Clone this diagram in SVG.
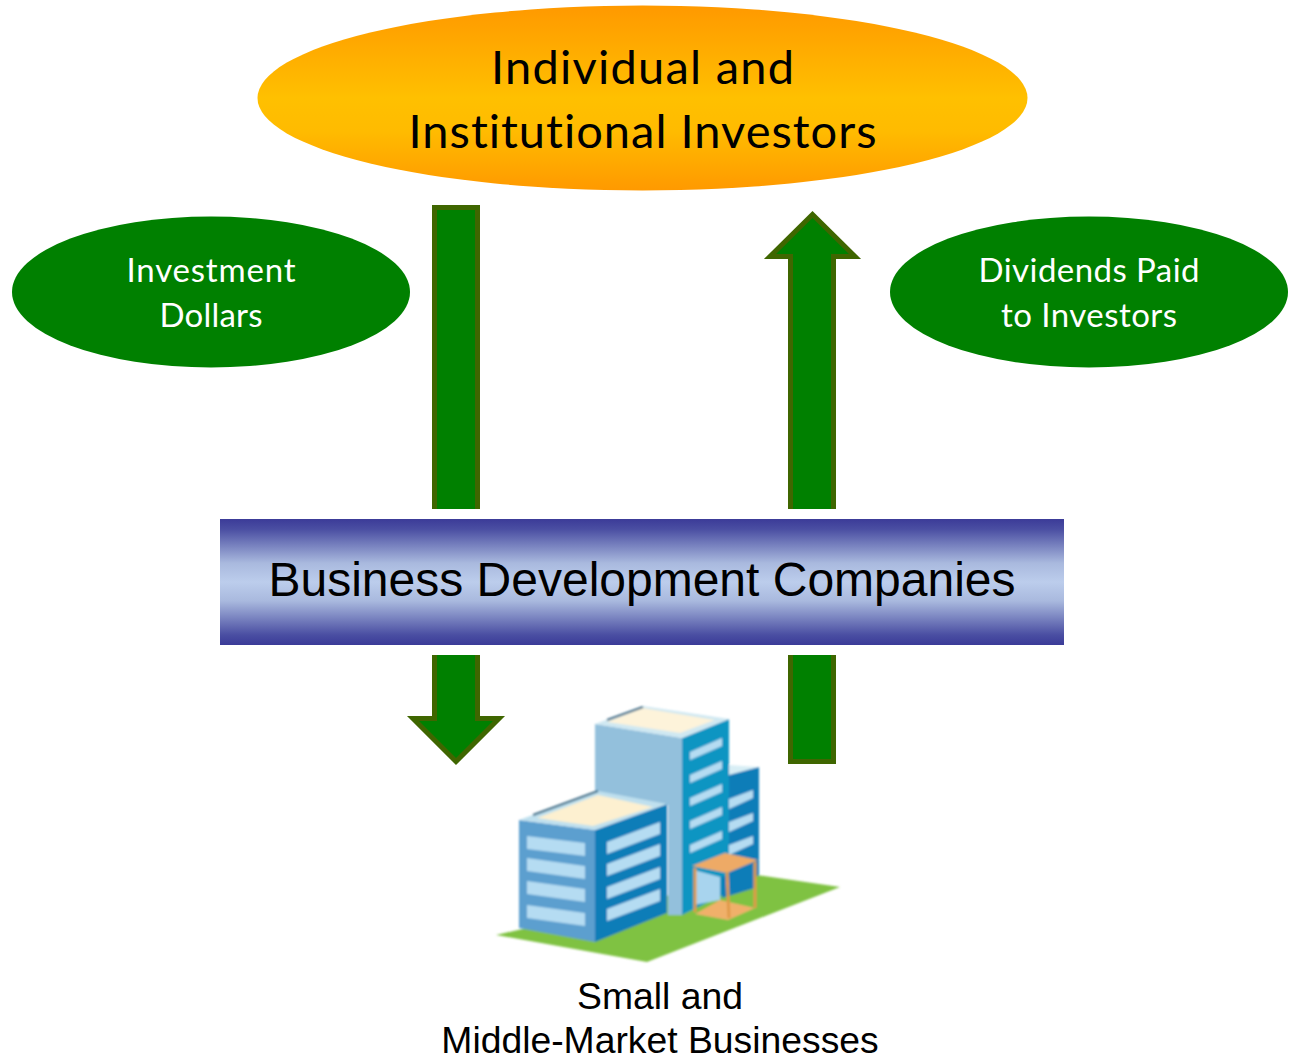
<svg xmlns="http://www.w3.org/2000/svg" width="1289" height="1061" viewBox="0 0 1289 1061">
<defs>
<linearGradient id="gold" x1="0" y1="0" x2="0" y2="1"><stop offset="0" stop-color="#ff9900"/><stop offset="0.5" stop-color="#ffc000"/><stop offset="0.68" stop-color="#ffbb00"/><stop offset="1" stop-color="#ff9900"/></linearGradient>
<linearGradient id="band" x1="0" y1="0" x2="0" y2="1"><stop offset="0" stop-color="#3b3b98"/><stop offset="0.08" stop-color="#4a4ea2"/><stop offset="0.35" stop-color="#a9b9de"/><stop offset="0.5" stop-color="#bccdec"/><stop offset="0.65" stop-color="#a9b9de"/><stop offset="0.92" stop-color="#4a4ea2"/><stop offset="1" stop-color="#3b3b98"/></linearGradient>
<filter id="soft" x="-5%" y="-5%" width="110%" height="110%"><feGaussianBlur stdDeviation="1"/></filter>
</defs>
<style>
.ar{fill:#008000;stroke:#3f6600;stroke-width:5;stroke-miterlimit:10}
.cal{font-family:"Lato","Open Sans",sans-serif;text-anchor:middle;font-variant-ligatures:none}
.ari{font-family:"Liberation Sans",Arial,sans-serif;text-anchor:middle;fill:#000}
.w{fill:#b5dcf2}
.g{fill:#008000}
</style>
<rect width="1289" height="1061" fill="#fff"/>
<g id="connectors">
<path class="ar" d="M434.500 509V207.500H477.500V509"/>
<path class="ar" d="M790.500 509V256.500H770L812.500 214.500L855 256.500H833.500V509"/>
<path class="ar" d="M434.500 655V718.500H413L456 761.500L499 718.500H477.500V655"/>
<path class="ar" d="M790.500 655V761.500H833.500V655"/>
</g>
<g id="investors">
<ellipse cx="642.500" cy="98" rx="385" ry="92.500" fill="url(#gold)"/>
<text class="cal" x="642.500" y="84" font-size="47" fill="#000" textLength="303">Individual and</text>
<text class="cal" x="642.500" y="148" font-size="47" fill="#000" textLength="468">Institutional Investors</text>
</g>
<g id="investment-dollars">
<ellipse class="g" cx="211" cy="292" rx="199" ry="75.500"/>
<text class="cal" x="211" y="282" font-size="33" fill="#fff" textLength="169">Investment</text>
<text class="cal" x="211" y="327" font-size="33" fill="#fff" textLength="103">Dollars</text>
</g>
<g id="dividends">
<ellipse class="g" cx="1089" cy="292" rx="199" ry="75.500"/>
<text class="cal" x="1089" y="282" font-size="33" fill="#fff" textLength="221">Dividends Paid</text>
<text class="cal" x="1089" y="327" font-size="33" fill="#fff" textLength="176">to Investors</text>
</g>
<g id="bdc">
<rect x="220" y="519" width="844" height="126" fill="url(#band)"/>
<text class="ari" x="642" y="596" font-size="48">Business Development Companies</text>
</g>
<g id="businesses">
<g filter="url(#soft)">
<polygon points="496,935 757,875 840,887 647,962" fill="#7fc242"/>
<polygon points="729,773 759,767 759,875 729,892" fill="#0d7db8"/>
<polygon points="729,765 759,767 729,775" fill="#d8eef5"/>
<polygon points="595,724 682,738 682,915 668,915 668,805 595,795" fill="#93c0dc"/>
<polygon points="682,738 729,719 729,892 682,915" fill="#0f95c2"/>
<polygon points="595,724 643,706 729,719 682,738" fill="#cfe8f2"/>
<polygon points="607,722 643,708 715,720 680,733" fill="#fdf3da"/>
<line x1="607" y1="720" x2="643" y2="707" stroke="#3a6a85" stroke-width="2"/>
<polygon points="690,752 722,738 722,746 690,760" class="w"/>
<polygon points="690,775 722,761 722,769 690,783" class="w"/>
<polygon points="690,798 722,784 722,792 690,806" class="w"/>
<polygon points="690,821 722,807 722,815 690,829" class="w"/>
<polygon points="690,845 722,831 722,839 690,853" class="w"/>
<polygon points="729,799 753,790 753,798 729,809" class="w"/>
<polygon points="729,822 753,813 753,821 729,832" class="w"/>
<polygon points="729,845 753,836 753,844 729,855" class="w"/>
<polygon points="519,820 595,830 595,942 519,928" fill="#5b9fcf"/>
<polygon points="595,830 667,804 667,913 595,942" fill="#0e7db8"/>
<polygon points="519,820 598,791 667,804 595,830" fill="#bfe0ee"/>
<polygon points="537,818 598,795 653,807 593,826" fill="#fdf0d0"/>
<line x1="533" y1="815" x2="598" y2="791" stroke="#3a6a85" stroke-width="2"/>
<polygon points="527,836 585,843 585,856 527,849" class="w"/>
<polygon points="527,858 585,866 585,879 527,871" class="w"/>
<polygon points="527,881 585,889 585,902 527,894" class="w"/>
<polygon points="527,905 585,913 585,926 527,918" class="w"/>
<polygon points="607,842 660,822 660,834 607,854" class="w"/>
<polygon points="607,864 660,844 660,856 607,876" class="w"/>
<polygon points="607,887 660,867 660,879 607,899" class="w"/>
<polygon points="607,909 660,889 660,901 607,921" class="w"/>
<polygon points="695,914 720,900 755,908 728,920" fill="#f0b06a"/>
<polygon points="694,870 720,877 720,900 694,905" fill="#a8d4ee"/>
<polygon points="722,877 755,868 755,888 722,898" fill="#0e7db8"/>
<polygon points="692,866 725,853 758,860 727,873" fill="#eeaa66"/>
<g stroke="#e09a48" stroke-width="3" fill="none"><line x1="727" y1="872" x2="729" y2="918"/><line x1="755" y1="862" x2="755" y2="908"/><line x1="695" y1="868" x2="695" y2="912"/></g>
</g>
<text class="ari" x="660" y="1009" font-size="37.300">Small and</text>
<text class="ari" x="660" y="1053" font-size="37.300">Middle-Market Businesses</text>
</g>
</svg>
